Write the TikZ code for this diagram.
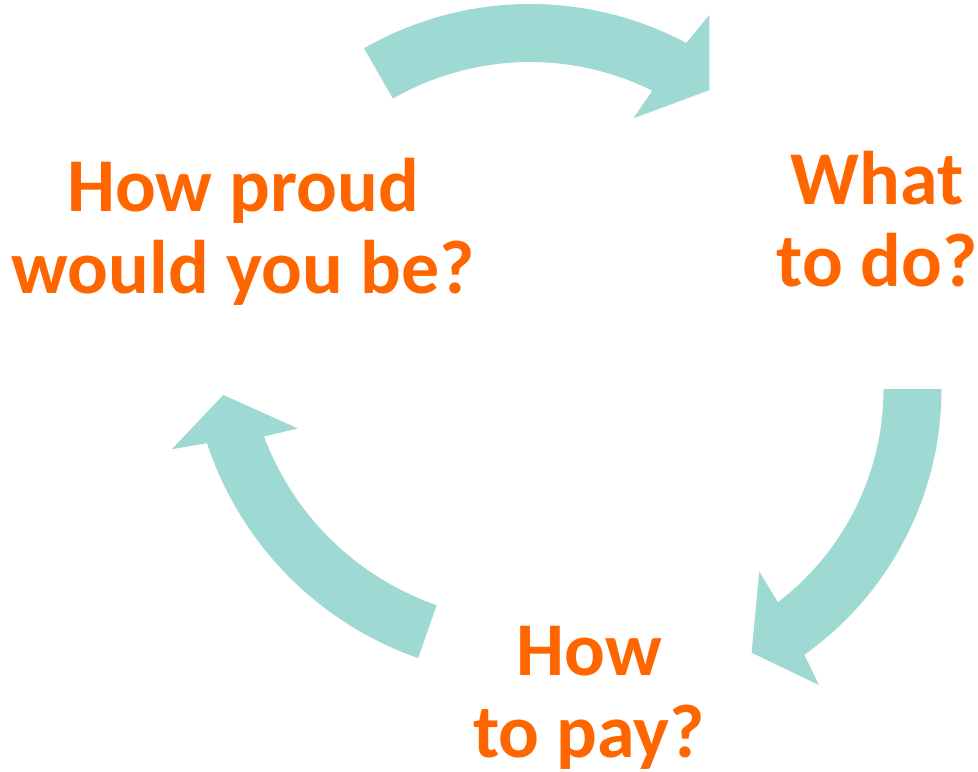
\documentclass[tikz,border=0pt]{standalone}
\usepackage{fontspec}
\setmainfont{Carlito}
\usepackage{tikz}
\usetikzlibrary{positioning}
\usepackage{xcolor}
\definecolor{cyclearr}{HTML}{9FD9D3}
\definecolor{qorange}{HTML}{FF6600}
\tikzset{
  question/.style={font=\fontsize{57pt}{61.5pt}\selectfont\bfseries, text=qorange, align=center, inner sep=0pt, anchor=base},
  band/.style={fill=cyclearr, draw=none}
}

\begin{document}
\begin{tikzpicture}[x=0.75pt, y=-0.75pt]
\useasboundingbox (0,0) rectangle (978,771);
% base anchor sits on the last line
\node[question] (proud) at (243,293) {How proud\\would you be?};
\node[question] (what) at (877,286) {What\\to do?};
\node[question] (pay) at (589,757) {How\\to pay?};
% top and left arrows share a centre
\begin{scope}[shift={(530,337)}]
\fill[band] (-119.9:333) arc[start angle=-119.9, end angle=-62.0, radius=333]
  -- (-60.9:368.6) -- (-54.0:305.2) -- (-64.7:241.9)
  -- (-63.6:275) arc[start angle=-63.6, end angle=-119.9, radius=275] -- cycle;
\fill[band] (109.2:340) arc[start angle=109.2, end angle=161.8, radius=340]
  -- (162.6:375.4) -- (169.3:312.1) -- (158.5:249.6)
  -- (159.5:284) arc[start angle=159.5, end angle=109.2, radius=284] -- cycle;
\end{scope}
% right arrow
\begin{scope}[shift={(615.5,389)}]
\fill[band] (0:326) arc[start angle=0, end angle=54.6, radius=326]
  -- (55.5:359.2) -- (62.7:296.8) -- (51.8:232.5)
  -- (52.7:268) arc[start angle=52.7, end angle=0, radius=268] -- cycle;
\end{scope}
\end{tikzpicture}
\end{document}
